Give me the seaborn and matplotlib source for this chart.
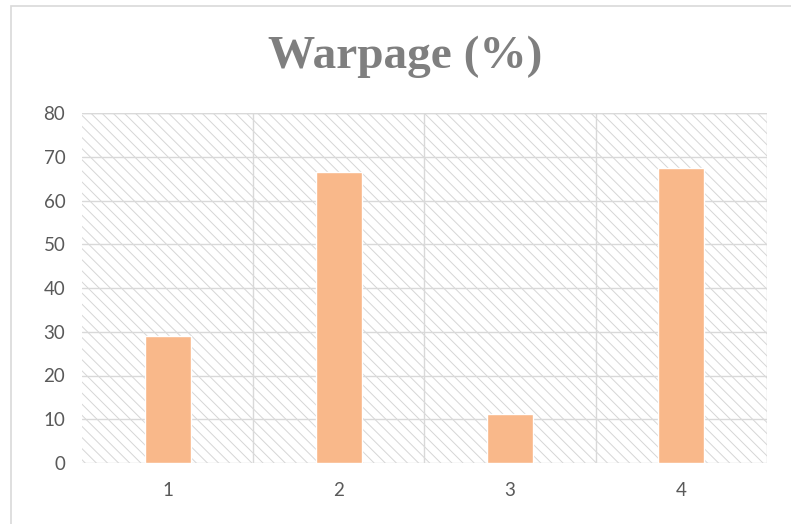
import matplotlib
matplotlib.use("Agg")
import matplotlib.pyplot as plt
from matplotlib.patches import Rectangle
import seaborn as sns
import pandas as pd

# Data
runs = ["1", "2", "3", "4"]
warpage = [29, 66.5, 11.2, 67.4]
y_ticks = [0, 10, 20, 30, 40, 50, 60, 70, 80]

df = pd.DataFrame({"run": runs, "warpage": warpage})

sns.set_style("white")
plt.rcParams["font.family"] = ["Lato", "DejaVu Sans"]
plt.rcParams["hatch.linewidth"] = 0.7
plt.rcParams["hatch.color"] = "#d6d6d6"

fig = plt.figure(figsize=(7.91, 5.24), dpi=100)
ax = fig.add_axes([82 / 791, 61 / 524, 685 / 791, 350 / 524])

# Hatched plot-area background
ax.add_patch(Rectangle((0, 0), 1, 1, transform=ax.transAxes, facecolor="white",
                       edgecolor="#d6d6d6", hatch="\\\\\\", linewidth=0, zorder=0))

sns.barplot(data=df, x="run", y="warpage", color="#F9B88A", width=0.27,
            saturation=1, ax=ax, zorder=3)

ax.set_xlim(-0.5, 3.5)
ax.set_ylim(0, 80)
ax.set_yticks(y_ticks)
ax.set_xticks(range(len(runs)))
ax.set_xticks([0.5, 1.5, 2.5], minor=True)

ax.grid(True, axis="y", which="major", color="#d9d9d9", linewidth=1.0, zorder=1)
ax.grid(True, axis="x", which="minor", color="#d9d9d9", linewidth=1.0, zorder=1)
ax.grid(False, axis="x", which="major")
ax.set_axisbelow(True)
for s in ax.spines.values():
    s.set_visible(False)
ax.axhline(80, color="#d9d9d9", linewidth=1.0, zorder=1)
ax.axvline(3.5, color="#d9d9d9", linewidth=1.0, zorder=1)

ax.tick_params(axis="both", which="both", length=0, labelsize=13.5, labelcolor="#595959")
ax.tick_params(axis="x", pad=14)
ax.tick_params(axis="y", pad=12)
ax.set_xlabel("")
ax.set_ylabel("")

fig.text(405 / 791, 1 - 57 / 524, "Warpage (%)", ha="center", va="center",
         fontsize=34, fontweight="bold", color="#7f7f7f",
         family=["Liberation Serif", "DejaVu Serif"])

# Chart frame
fig.add_artist(Rectangle((11 / 791, -0.1), 1.2, 1 - 6 / 524 + 0.1,
                         transform=fig.transFigure, fill=False,
                         edgecolor="#d9d9d9", linewidth=1.2))

fig.savefig("out.png", dpi=100)
